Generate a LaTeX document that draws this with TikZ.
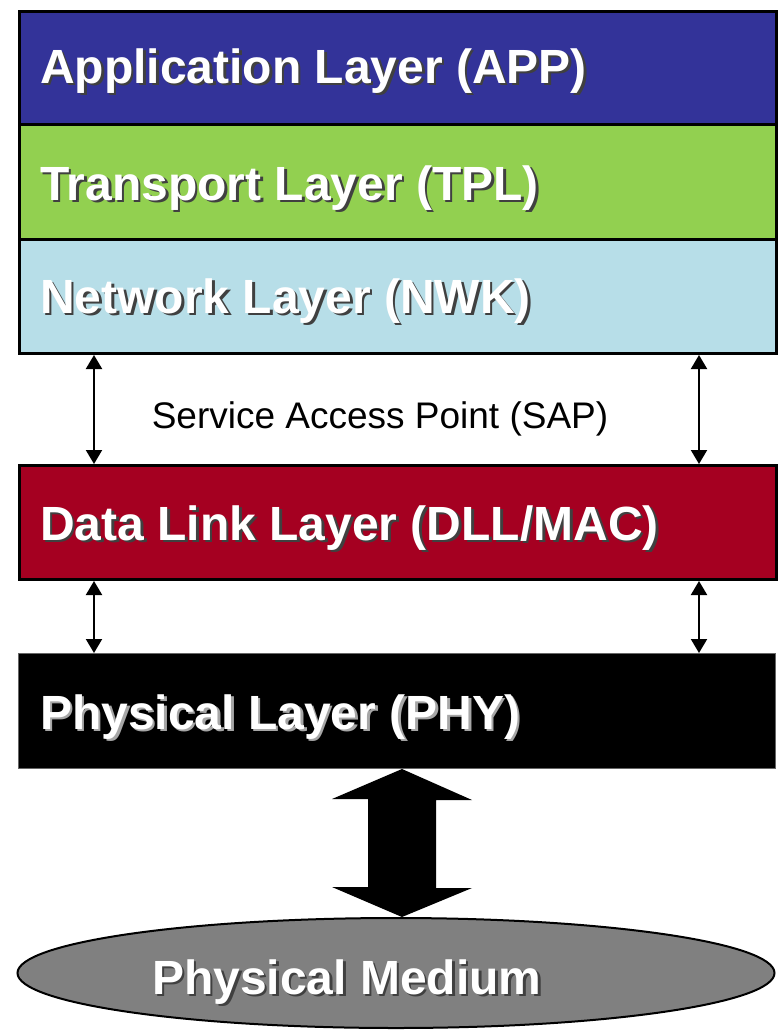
\documentclass[tikz,border=0pt]{standalone}
\usepackage{fontspec}
\setmainfont{Liberation Sans}
\usetikzlibrary{arrows.meta,shapes.geometric,calc}
\definecolor{appblue}{HTML}{333399}
\definecolor{tplgreen}{HTML}{92D050}
\definecolor{nwkcyan}{HTML}{B7DEE8}
\definecolor{dllred}{HTML}{A50021}
\definecolor{medgray}{HTML}{808080}
\newcommand\shtext[2]{\rlap{\hspace{2.5pt}\raisebox{-2.5pt}{\textcolor{#1}{#2}}}#2}
\begin{document}
\begin{tikzpicture}[x=1pt,y=-1pt,
  layerbox/.style={draw=black,line width=3pt,minimum width=757pt,minimum height=#1,inner sep=0pt,anchor=north west},
  title/.style={font=\fontsize{48}{52}\selectfont\bfseries,text=white,inner sep=0pt,anchor=base west},
  sap/.style={line width=2pt,{Triangle[length=14pt,width=16pt]}-{Triangle[length=14pt,width=16pt]}},
]
\useasboundingbox (0,0) rectangle (779,1031);
% layer boxes
\node[layerbox=113pt,fill=appblue] (app) at (18,10) {};
\node[layerbox=115pt,fill=tplgreen] (tpl) at (18,123) {};
\node[layerbox=114pt,fill=nwkcyan] (nwk) at (18,238) {};
\node[layerbox=114pt,fill=dllred] (dll) at (18,464) {};
\node[layerbox=115pt,fill=black,draw=black!60,line width=1pt] (phy) at (18,653) {};
\node[ellipse,draw=black,line width=2pt,fill=medgray,minimum width=757pt,minimum height=110pt,inner sep=0pt] (med) at (396,973) {};
% titles with shadows
\node[title] (appT) at (40,83) {\shtext{black!75}{Application Layer (APP)}};
\node[title] (tplT) at (40,200) {\shtext{black!75}{Transport Layer (TPL)}};
\node[title] (nwkT) at (40,313) {\shtext{black!75}{Network Layer (NWK)}};
\node[title] (dllT) at (40,540) {\shtext{black!75}{Data Link Layer (DLL/MAC)}};
\node[title] (phyT) at (40,729) {\shtext{gray!70}{Physical Layer (PHY)}};
\node[title] (medT) at (152,994) {\shtext{black!75}{Physical Medium}};
% SAP label
\node[font=\fontsize{37}{42}\selectfont,inner sep=0pt,anchor=base] (sapT) at (380,428) {Service Access Point (SAP)};
% small arrows
\coordinate (L) at (94,0);
\coordinate (R) at (699,0);
\draw[sap] (nwk.south -| L) -- (dll.north -| L);
\draw[sap] (nwk.south -| R) -- (dll.north -| R);
\draw[sap] (dll.south -| L) -- (phy.north -| L);
\draw[sap] (dll.south -| R) -- (phy.north -| R);
% big double arrow
\coordinate (C) at (402,0);
\fill[black] (phy.south -| C) -- ++(70,31) -- ++(-36,0) -- ++(0,88) -- ++(36,0)
  -- (med.north -| C) -- ++(-70,-30) -- ++(36,0) -- ++(0,-88) -- ++(-36,0) -- cycle;
\end{tikzpicture}
\end{document}
